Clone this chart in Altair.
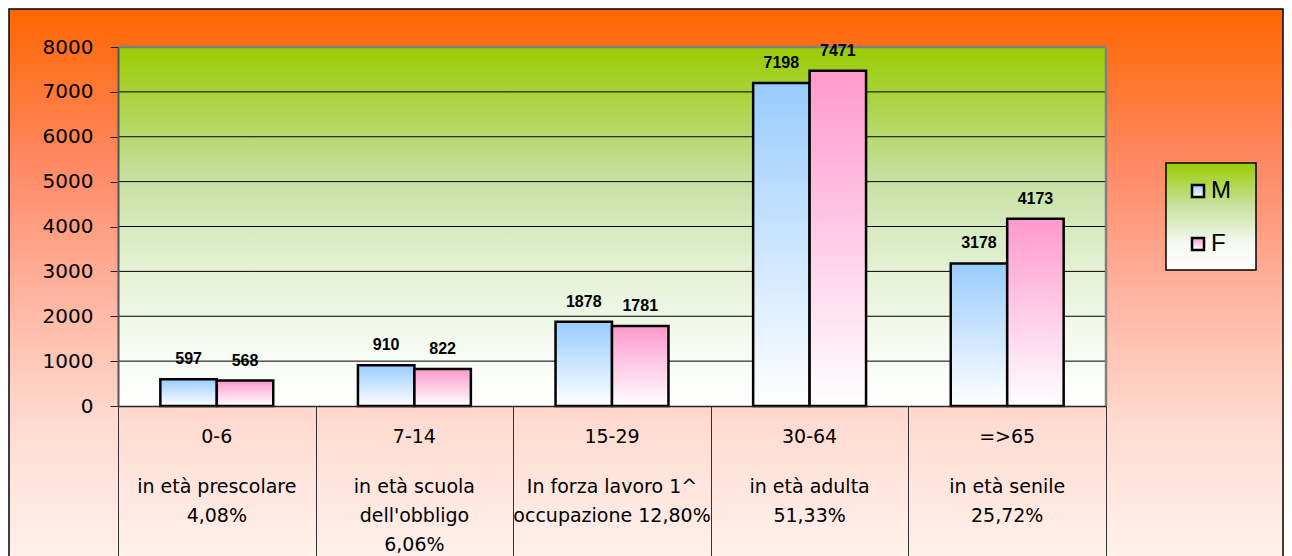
import altair as alt
import pandas as pd

# ---- data ----
categories = ["0-6", "7-14", "15-29", "30-64", "=>65"]
descriptions = [
    "in età prescolare\n4,08%",
    "in età scuola\ndell'obbligo\n6,06%",
    "In forza lavoro 1^\noccupazione 12,80%",
    "in età adulta\n51,33%",
    "in età senile\n25,72%",
]
sexes = ["M", "F"]
male = [597, 910, 1878, 7198, 3178]
female = [568, 822, 1781, 7471, 4173]
y_ticks = [0, 1000, 2000, 3000, 4000, 5000, 6000, 7000, 8000]
grid_vals = [1000, 2000, 3000, 4000, 5000, 6000, 7000]

rows = []
for c, m, f in zip(categories, male, female):
    rows.append({"cat": c, "sex": "M", "val": m})
    rows.append({"cat": c, "sex": "F", "val": f})
df = pd.DataFrame(rows)
cat_df = pd.DataFrame({"cat": categories, "desc": descriptions})
grid_df = pd.DataFrame({"val": grid_vals})
one = pd.DataFrame({"k": [0]})

W, H = 988, 359


def vgrad(stops):
    return {
        "gradient": "linear", "x1": 0, "y1": 0, "x2": 0, "y2": 1,
        "stops": [{"offset": o, "color": c} for o, c in stops],
    }


orange_grad = vgrad([(0, "#FF6600"), (0.28, "#FF8A66"), (0.53, "#FFB8A5"),
                     (0.74, "#FFDCD2"), (1, "#FFF4F0")])
green_grad = vgrad([(0, "#99CC00"), (0.35, "#C4DF9C"), (0.6, "#E2F0D2"),
                    (0.85, "#F7FBF3"), (1, "#FFFFFF")])
legend_grad = vgrad([(0, "#99CC00"), (0.4, "#C8E2A0"), (0.75, "#F5F8F0"), (1, "#FFFFFF")])
blue_grad = vgrad([(0, "#99CCFF"), (1, "#FFFFFF")])
pink_grad = vgrad([(0, "#FF99CC"), (1, "#FFFFFF")])

x_axis = alt.Axis(title=None, labels=False, ticks=True, tickBand="extent", tickSize=150,
                  tickColor="#333333", tickWidth=1, domainColor="#222222", domainWidth=1.5,
                  zindex=1, grid=False)
y_axis = alt.Axis(title=None, values=y_ticks, format="d", grid=False, labelFont="DejaVu Sans",
                  labelFontSize=20, labelColor="black", labelPadding=17, tickSize=8,
                  tickColor="#222222", tickWidth=1, domainColor="#555555", domainWidth=2,
                  zindex=1)

x_enc = alt.X("cat:N", sort=categories, scale=alt.Scale(paddingInner=0, paddingOuter=0),
              axis=x_axis)
xo_enc = alt.XOffset("sex:N", sort=sexes,
                     scale=alt.Scale(domain=sexes, paddingInner=0, paddingOuter=0.75))
y_scale = alt.Scale(domain=[0, 8000], nice=False, zero=True)

bg = alt.Chart(one).mark_rect(fill=orange_grad, stroke="black", strokeWidth=1.5).encode(
    x=alt.value(-109), x2=alt.value(1165), y=alt.value(-38), y2=alt.value(H + 170))

plot_bg = alt.Chart(one).mark_rect(fill=green_grad).encode(
    x=alt.value(0), x2=alt.value(W), y=alt.value(0), y2=alt.value(H))

grid = alt.Chart(grid_df).mark_rule(color="black", strokeWidth=1).encode(
    y=alt.Y("val:Q", scale=y_scale, axis=y_axis))

top_border = alt.Chart(one).mark_rule(color="#808080", strokeWidth=2.5).encode(
    x=alt.value(0), x2=alt.value(W), y=alt.value(0))
right_border = alt.Chart(one).mark_rule(color="#808080", strokeWidth=2.5).encode(
    x=alt.value(W), y=alt.value(0), y2=alt.value(H))

bars_m = alt.Chart(df).transform_filter(alt.datum.sex == "M").mark_bar(
    fill=blue_grad, stroke="black", strokeWidth=2.5).encode(
    x=x_enc, xOffset=xo_enc, y=alt.Y("val:Q", scale=y_scale, axis=y_axis))
bars_f = alt.Chart(df).transform_filter(alt.datum.sex == "F").mark_bar(
    fill=pink_grad, stroke="black", strokeWidth=2.5).encode(
    x=x_enc, xOffset=xo_enc, y=alt.Y("val:Q", scale=y_scale, axis=y_axis))

labels = alt.Chart(df).mark_text(font="Liberation Sans", fontWeight="bold", fontSize=16,
                                 baseline="middle", dy=-20, color="black").encode(
    x=x_enc, xOffset=xo_enc, y=alt.Y("val:Q", scale=y_scale, axis=y_axis), text="val:Q")

cat_text = alt.Chart(cat_df).mark_text(font="DejaVu Sans", fontSize=19, baseline="middle",
                                       color="black").encode(
    x=x_enc, y=alt.value(H + 31), text="cat:N")
desc_text = alt.Chart(cat_df).mark_text(font="DejaVu Sans", fontSize=19, baseline="alphabetic",
                                        lineBreak="\n", lineHeight=29, color="black").encode(
    x=x_enc, y=alt.value(H + 87), text="desc:N")

leg_box = alt.Chart(one).mark_rect(fill=legend_grad, stroke="black", strokeWidth=1.5).encode(
    x=alt.value(1048), x2=alt.value(1138), y=alt.value(116), y2=alt.value(223))
leg_m = alt.Chart(one).mark_rect(fill=blue_grad, stroke="black", strokeWidth=2.5).encode(
    x=alt.value(1074), x2=alt.value(1086), y=alt.value(138), y2=alt.value(150))
leg_f = alt.Chart(one).mark_rect(fill=pink_grad, stroke="black", strokeWidth=2.5).encode(
    x=alt.value(1074), x2=alt.value(1086), y=alt.value(191), y2=alt.value(203))
leg_tm = alt.Chart(one).mark_text(text=sexes[0], font="Liberation Sans", fontSize=24,
                                  align="left", baseline="middle", color="black").encode(
    x=alt.value(1093), y=alt.value(144))
leg_tf = alt.Chart(one).mark_text(text=sexes[1], font="Liberation Sans", fontSize=24,
                                  align="left", baseline="middle", color="black").encode(
    x=alt.value(1093), y=alt.value(197))

chart = alt.layer(
    bg, plot_bg, grid, top_border, right_border, bars_m, bars_f, labels,
    cat_text, desc_text, leg_box, leg_m, leg_f, leg_tm, leg_tf
).properties(
    width=W, height=H,
    autosize=alt.AutoSizeParams(type="none"),
    padding={"left": 110, "top": 39, "right": 178, "bottom": 160},
).configure_view(stroke=None).configure(background="white")

chart.save("out.html", embed_options={"renderer": "svg", "actions": False})
